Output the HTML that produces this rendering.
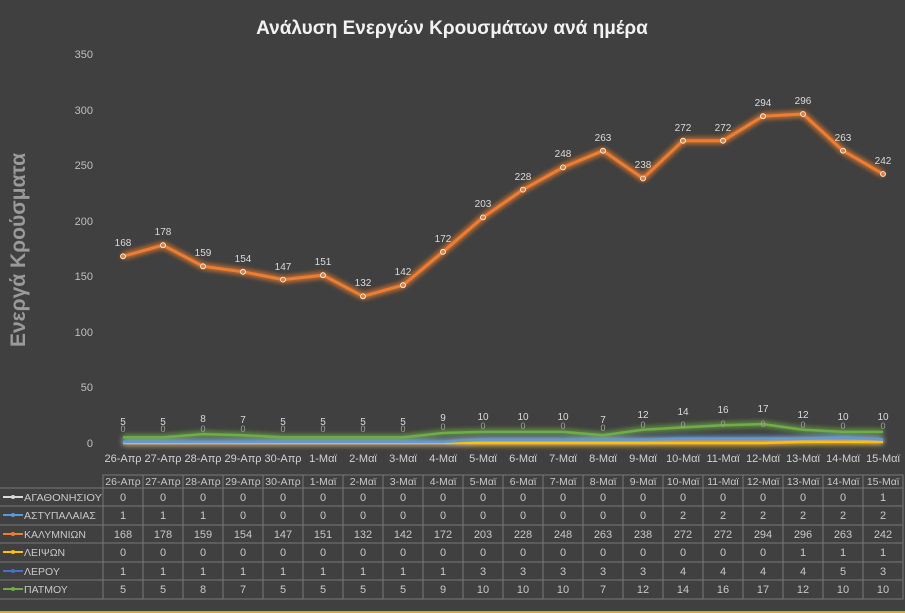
<!DOCTYPE html>
<html><head><meta charset="utf-8"><style>
body{margin:0;background:#404040;}
svg{display:block;font-family:"Liberation Sans","DejaVu Sans",sans-serif;}
</style></head><body>
<svg width="905" height="613" viewBox="0 0 905 613" xmlns="http://www.w3.org/2000/svg">
<defs><filter id="g" x="-5%" y="-50%" width="110%" height="200%"><feGaussianBlur stdDeviation="3" result="b"/><feMerge><feMergeNode in="b"/><feMergeNode in="b"/><feMergeNode in="SourceGraphic"/></feMerge></filter></defs>
<rect width="905" height="613" fill="#404040"/>
<text x="452" y="34" fill="#f2f2f2" font-size="19" font-weight="bold" text-anchor="middle">Ανάλυση Ενεργών Κρουσμάτων ανά ημέρα</text>
<text transform="translate(25,250) rotate(-90)" fill="#9a9a9a" font-size="21" font-weight="bold" text-anchor="middle">Ενεργά Κρούσματα</text>
<g fill="#bfbfbf" font-size="11" text-anchor="end">
<text x="93" y="58">350</text><text x="93" y="114">300</text><text x="93" y="169">250</text><text x="93" y="225">200</text><text x="93" y="280">150</text><text x="93" y="336">100</text><text x="93" y="391">50</text><text x="93" y="447">0</text>
</g>
<g filter="url(#g)" fill="none" stroke-width="2.5">
<polyline stroke="#ffc000" points="123,443 163,443 203,443 243,443 283,443 323,443 363,443 403,443 443,443 483,443 523,443 563,443 603,443 643,443 683,443 723,443 763,443 803,441.9 843,441.9 883,441.9"/>
<polyline stroke="#5b9bd5" points="123,441.9 163,441.9 203,441.9 243,441.9 283,441.9 323,441.9 363,441.9 403,441.9 443,441.9 483,439.7 523,439.7 563,439.7 603,439.7 643,439.7 683,438.6 723,438.6 763,438.6 803,438.6 843,437.4 883,439.7"/>
<polyline stroke="#70ad47" points="123,437.4 163,437.4 203,434.1 243,435.2 283,437.4 323,437.4 363,437.4 403,437.4 443,433 483,431.9 523,431.9 563,431.9 603,435.2 643,429.7 683,427.4 723,425.2 763,424.1 803,429.7 843,431.9 883,431.9"/>
<polyline stroke="#ed7d31" stroke-width="3" points="123,256.3 163,245.2 203,266.3 243,271.8 283,279.6 323,275.2 363,296.3 403,285.2 443,251.8 483,217.4 523,189.6 563,167.4 603,150.7 643,178.5 683,140.7 723,140.7 763,116.2 803,114 843,150.7 883,174"/>
</g>
<g fill="#ed7d31" stroke="#fff" stroke-width="0.8">
<circle cx="123" cy="256.3" r="2.5"/><circle cx="163" cy="245.2" r="2.5"/><circle cx="203" cy="266.3" r="2.5"/><circle cx="243" cy="271.8" r="2.5"/><circle cx="283" cy="279.6" r="2.5"/><circle cx="323" cy="275.2" r="2.5"/><circle cx="363" cy="296.3" r="2.5"/><circle cx="403" cy="285.2" r="2.5"/><circle cx="443" cy="251.8" r="2.5"/><circle cx="483" cy="217.4" r="2.5"/><circle cx="523" cy="189.6" r="2.5"/><circle cx="563" cy="167.4" r="2.5"/><circle cx="603" cy="150.7" r="2.5"/><circle cx="643" cy="178.5" r="2.5"/><circle cx="683" cy="140.7" r="2.5"/><circle cx="723" cy="140.7" r="2.5"/><circle cx="763" cy="116.2" r="2.5"/><circle cx="803" cy="114" r="2.5"/><circle cx="843" cy="150.7" r="2.5"/><circle cx="883" cy="174" r="2.5"/>
</g>
<g fill="#d9d9d9" font-size="10" text-anchor="middle">
<text x="123" y="246">168</text><text x="163" y="235">178</text><text x="203" y="256">159</text><text x="243" y="262">154</text><text x="283" y="270">147</text><text x="323" y="265">151</text><text x="363" y="286">132</text><text x="403" y="275">142</text><text x="443" y="242">172</text><text x="483" y="207">203</text><text x="523" y="180">228</text><text x="563" y="157">248</text><text x="603" y="141">263</text><text x="643" y="168">238</text><text x="683" y="131">272</text><text x="723" y="131">272</text><text x="763" y="106">294</text><text x="803" y="104">296</text><text x="843" y="141">263</text><text x="883" y="164">242</text>
</g>
<g fill="#d9d9d9" font-size="10" text-anchor="middle">
<text x="123" y="425">5</text><text x="163" y="425">5</text><text x="203" y="422">8</text><text x="243" y="423">7</text><text x="283" y="425">5</text><text x="323" y="425">5</text><text x="363" y="425">5</text><text x="403" y="425">5</text><text x="443" y="421">9</text><text x="483" y="420">10</text><text x="523" y="420">10</text><text x="563" y="420">10</text><text x="603" y="423">7</text><text x="643" y="418">12</text><text x="683" y="415">14</text><text x="723" y="413">16</text><text x="763" y="412">17</text><text x="803" y="418">12</text><text x="843" y="420">10</text><text x="883" y="420">10</text>
</g>
<g fill="#a0a0a0" font-size="9" text-anchor="middle">
<text x="123" y="432">0</text><text x="163" y="432">0</text><text x="203" y="432">0</text><text x="243" y="432">0</text><text x="283" y="432">0</text><text x="323" y="432">0</text><text x="363" y="432">0</text><text x="403" y="432">0</text><text x="443" y="430">0</text><text x="483" y="429">0</text><text x="523" y="429">0</text><text x="563" y="429">0</text><text x="603" y="431">0</text><text x="643" y="428">0</text><text x="683" y="428">0</text><text x="723" y="427">0</text><text x="763" y="427">0</text><text x="803" y="428">0</text><text x="843" y="429">0</text><text x="883" y="429">0</text>
</g>
<g fill="#d0d0d0" font-size="11" text-anchor="middle">
<text x="123" y="462">26-Απρ</text><text x="163" y="462">27-Απρ</text><text x="203" y="462">28-Απρ</text><text x="243" y="462">29-Απρ</text><text x="283" y="462">30-Απρ</text><text x="323" y="462">1-Μαϊ</text><text x="363" y="462">2-Μαϊ</text><text x="403" y="462">3-Μαϊ</text><text x="443" y="462">4-Μαϊ</text><text x="483" y="462">5-Μαϊ</text><text x="523" y="462">6-Μαϊ</text><text x="563" y="462">7-Μαϊ</text><text x="603" y="462">8-Μαϊ</text><text x="643" y="462">9-Μαϊ</text><text x="683" y="462">10-Μαϊ</text><text x="723" y="462">11-Μαϊ</text><text x="763" y="462">12-Μαϊ</text><text x="803" y="462">13-Μαϊ</text><text x="843" y="462">14-Μαϊ</text><text x="883" y="462">15-Μαϊ</text>
</g>
<g stroke="#777" stroke-width="1" fill="none">
<rect x="103" y="475" width="800" height="124"/>
<line x1="0" y1="488" x2="903" y2="488"/><line x1="0" y1="506" x2="903" y2="506"/><line x1="0" y1="525" x2="903" y2="525"/><line x1="0" y1="543" x2="903" y2="543"/><line x1="0" y1="562" x2="903" y2="562"/><line x1="0" y1="580" x2="903" y2="580"/><line x1="0" y1="599" x2="903" y2="599"/>
<path d="M143 475V599M183 475V599M223 475V599M263 475V599M303 475V599M343 475V599M383 475V599M423 475V599M463 475V599M503 475V599M543 475V599M583 475V599M623 475V599M663 475V599M703 475V599M743 475V599M783 475V599M823 475V599M863 475V599"/>
</g>
<g fill="#c8c8c8" font-size="10.5" text-anchor="middle">
<text x="123" y="485">26-Απρ</text><text x="163" y="485">27-Απρ</text><text x="203" y="485">28-Απρ</text><text x="243" y="485">29-Απρ</text><text x="283" y="485">30-Απρ</text><text x="323" y="485">1-Μαϊ</text><text x="363" y="485">2-Μαϊ</text><text x="403" y="485">3-Μαϊ</text><text x="443" y="485">4-Μαϊ</text><text x="483" y="485">5-Μαϊ</text><text x="523" y="485">6-Μαϊ</text><text x="563" y="485">7-Μαϊ</text><text x="603" y="485">8-Μαϊ</text><text x="643" y="485">9-Μαϊ</text><text x="683" y="485">10-Μαϊ</text><text x="723" y="485">11-Μαϊ</text><text x="763" y="485">12-Μαϊ</text><text x="803" y="485">13-Μαϊ</text><text x="843" y="485">14-Μαϊ</text><text x="883" y="485">15-Μαϊ</text>
</g>
<g font-size="10.5" fill="#c8c8c8">
<line x1="3" y1="497" x2="23" y2="497" stroke="#d9d9d9" stroke-width="2"/><circle cx="13" cy="497" r="2" fill="#d9d9d9"/><text x="24" y="501" textLength="78" lengthAdjust="spacingAndGlyphs">ΑΓΑΘΟΝΗΣΙΟΥ</text>
<line x1="3" y1="515" x2="23" y2="515" stroke="#5b9bd5" stroke-width="2"/><circle cx="13" cy="515" r="2" fill="#5b9bd5"/><text x="24" y="519">ΑΣΤΥΠΑΛΑΙΑΣ</text>
<line x1="3" y1="534" x2="23" y2="534" stroke="#ed7d31" stroke-width="2"/><circle cx="13" cy="534" r="2" fill="#ed7d31"/><text x="24" y="538">ΚΑΛΥΜΝΙΩΝ</text>
<line x1="3" y1="552" x2="23" y2="552" stroke="#ffc000" stroke-width="2"/><circle cx="13" cy="552" r="2" fill="#ffc000"/><text x="24" y="556">ΛΕΙΨΩΝ</text>
<line x1="3" y1="571" x2="23" y2="571" stroke="#4472c4" stroke-width="2"/><circle cx="13" cy="571" r="2" fill="#4472c4"/><text x="24" y="575">ΛΕΡΟΥ</text>
<line x1="3" y1="589" x2="23" y2="589" stroke="#70ad47" stroke-width="2"/><circle cx="13" cy="589" r="2" fill="#70ad47"/><text x="24" y="593">ΠΑΤΜΟΥ</text>
</g>
<g fill="#c8c8c8" font-size="11" text-anchor="middle">
<text y="501"><tspan x="123">0</tspan><tspan x="163">0</tspan><tspan x="203">0</tspan><tspan x="243">0</tspan><tspan x="283">0</tspan><tspan x="323">0</tspan><tspan x="363">0</tspan><tspan x="403">0</tspan><tspan x="443">0</tspan><tspan x="483">0</tspan><tspan x="523">0</tspan><tspan x="563">0</tspan><tspan x="603">0</tspan><tspan x="643">0</tspan><tspan x="683">0</tspan><tspan x="723">0</tspan><tspan x="763">0</tspan><tspan x="803">0</tspan><tspan x="843">0</tspan><tspan x="883">1</tspan></text>
<text y="519"><tspan x="123">1</tspan><tspan x="163">1</tspan><tspan x="203">1</tspan><tspan x="243">0</tspan><tspan x="283">0</tspan><tspan x="323">0</tspan><tspan x="363">0</tspan><tspan x="403">0</tspan><tspan x="443">0</tspan><tspan x="483">0</tspan><tspan x="523">0</tspan><tspan x="563">0</tspan><tspan x="603">0</tspan><tspan x="643">0</tspan><tspan x="683">2</tspan><tspan x="723">2</tspan><tspan x="763">2</tspan><tspan x="803">2</tspan><tspan x="843">2</tspan><tspan x="883">2</tspan></text>
<text y="538"><tspan x="123">168</tspan><tspan x="163">178</tspan><tspan x="203">159</tspan><tspan x="243">154</tspan><tspan x="283">147</tspan><tspan x="323">151</tspan><tspan x="363">132</tspan><tspan x="403">142</tspan><tspan x="443">172</tspan><tspan x="483">203</tspan><tspan x="523">228</tspan><tspan x="563">248</tspan><tspan x="603">263</tspan><tspan x="643">238</tspan><tspan x="683">272</tspan><tspan x="723">272</tspan><tspan x="763">294</tspan><tspan x="803">296</tspan><tspan x="843">263</tspan><tspan x="883">242</tspan></text>
<text y="556"><tspan x="123">0</tspan><tspan x="163">0</tspan><tspan x="203">0</tspan><tspan x="243">0</tspan><tspan x="283">0</tspan><tspan x="323">0</tspan><tspan x="363">0</tspan><tspan x="403">0</tspan><tspan x="443">0</tspan><tspan x="483">0</tspan><tspan x="523">0</tspan><tspan x="563">0</tspan><tspan x="603">0</tspan><tspan x="643">0</tspan><tspan x="683">0</tspan><tspan x="723">0</tspan><tspan x="763">0</tspan><tspan x="803">1</tspan><tspan x="843">1</tspan><tspan x="883">1</tspan></text>
<text y="575"><tspan x="123">1</tspan><tspan x="163">1</tspan><tspan x="203">1</tspan><tspan x="243">1</tspan><tspan x="283">1</tspan><tspan x="323">1</tspan><tspan x="363">1</tspan><tspan x="403">1</tspan><tspan x="443">1</tspan><tspan x="483">3</tspan><tspan x="523">3</tspan><tspan x="563">3</tspan><tspan x="603">3</tspan><tspan x="643">3</tspan><tspan x="683">4</tspan><tspan x="723">4</tspan><tspan x="763">4</tspan><tspan x="803">4</tspan><tspan x="843">5</tspan><tspan x="883">3</tspan></text>
<text y="593"><tspan x="123">5</tspan><tspan x="163">5</tspan><tspan x="203">8</tspan><tspan x="243">7</tspan><tspan x="283">5</tspan><tspan x="323">5</tspan><tspan x="363">5</tspan><tspan x="403">5</tspan><tspan x="443">9</tspan><tspan x="483">10</tspan><tspan x="523">10</tspan><tspan x="563">10</tspan><tspan x="603">7</tspan><tspan x="643">12</tspan><tspan x="683">14</tspan><tspan x="723">16</tspan><tspan x="763">17</tspan><tspan x="803">12</tspan><tspan x="843">10</tspan><tspan x="883">10</tspan></text>
</g>
<rect x="0" y="611" width="905" height="2" fill="#e0a030"/>
</svg>
</body></html>
